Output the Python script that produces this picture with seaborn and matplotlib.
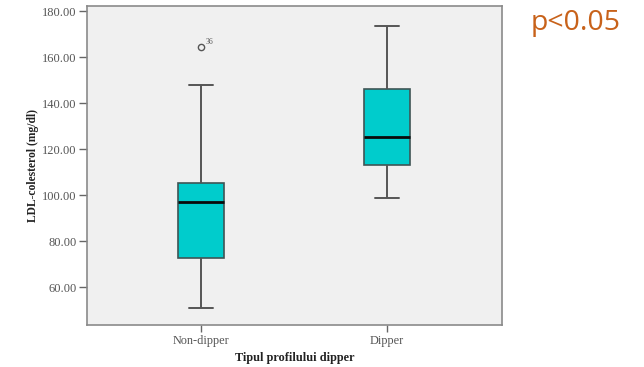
import numpy as np
import pandas as pd
import matplotlib
matplotlib.use("Agg")
import matplotlib.pyplot as plt
import seaborn as sns

# ---- data ----
groups = ["Non-dipper", "Dipper"]
whisker_low = [50.9, 98.9]
q1 = [72.7, 113.1]
median = [97.2, 125.4]
q3 = [105.4, 146.0]
whisker_high = [147.9, 173.6]
outliers = [[164.5], []]
outlier_ids = [["36"], []]
yticks = [60, 80, 100, 120, 140, 160, 180]

# Build a sample per group whose quartiles/whiskers reproduce the summary
rows = []
for i, g in enumerate(groups):
    vals = ([whisker_low[i]] + [q1[i]] * 3 + [median[i]] * 3 +
            [q3[i]] * 4 + [whisker_high[i]] + outliers[i])
    for v in vals:
        rows.append({"group": g, "value": v})
df = pd.DataFrame(rows)

sns.set_style("white")
serif = ["Liberation Serif", "DejaVu Serif"]

fig = plt.figure(figsize=(6.44, 3.67), dpi=100)
fig.patch.set_facecolor("white")
ax = fig.add_axes([87 / 644, 1 - 325 / 367, (502 - 87) / 644, (325 - 6) / 367])
ax.set_facecolor("#f0f0f0")

sns.boxplot(
    data=df, x="group", y="value", order=groups, ax=ax,
    width=0.25, color="#00cccc", saturation=1, whis=1.5,
    linecolor="#505050", linewidth=1.2,
    boxprops=dict(facecolor="#00cccc", edgecolor="#3f5555"),
    medianprops=dict(color="#0a0a0a", linewidth=2.0),
    whiskerprops=dict(color="#555555", linewidth=1.4),
    capprops=dict(color="#555555", linewidth=1.4),
    flierprops=dict(marker="o", markersize=4.5, markerfacecolor="none",
                    markeredgecolor="#555555", markeredgewidth=1.0),
)

for i in range(len(groups)):
    for v, lab in zip(outliers[i], outlier_ids[i]):
        ax.annotate(lab, (i, v), xytext=(3, 2), textcoords="offset points",
                    fontsize=5.5, color="#555555", family=serif)

ax.set_xlim(-0.613, 1.618)
ax.set_ylim(43.6, 182.2)
ax.set_yticks(yticks)
ax.set_yticklabels([f"{t:.2f}" for t in yticks], family=serif, fontsize=9,
                   color="#555555")
ax.set_xticks(range(len(groups)))
ax.set_xticklabels(groups, family=serif, fontsize=8.8, color="#555555")
ax.tick_params(axis="both", direction="out", length=6, width=1,
               color="#666666", pad=1.5, bottom=True, left=True)
ax.tick_params(axis="x", length=5, pad=2)

ax.set_xlabel("Tipul profilului dipper", family=serif, fontsize=8.8,
              fontweight="bold", color="#222222", labelpad=4)
ax.set_ylabel("LDL-colesterol (mg/dl)", family=serif, fontsize=8.4,
              fontweight="bold", color="#222222")
ax.yaxis.set_label_coords(-0.115, 0.5)

for s in ax.spines.values():
    s.set_visible(True)
    s.set_color("#8a8a8a")
    s.set_linewidth(1.2)

fig.text(576 / 644, 1 - 23 / 367, "p<0.05", fontsize=20.5, color="#c8621a",
         family=["Open Sans", "DejaVu Sans"], ha="center", va="center")

fig.savefig("out.png", dpi=100)
